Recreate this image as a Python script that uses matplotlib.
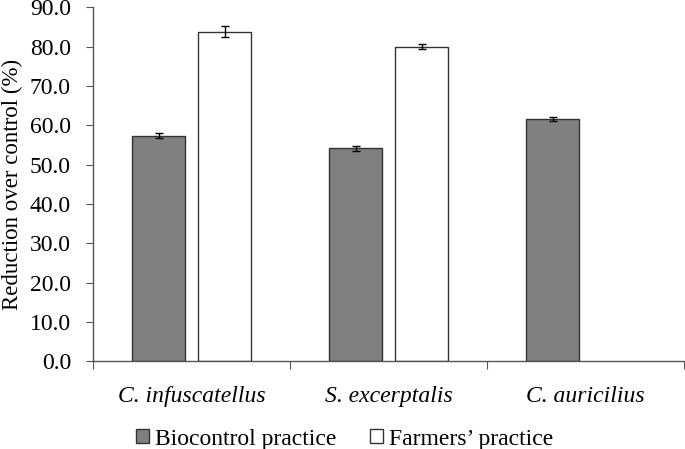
import matplotlib.pyplot as plt
import numpy as np
from matplotlib.patches import Patch

plt.rcParams['font.family'] = ['Liberation Serif', 'DejaVu Serif']

pests = ['C. infuscatellus', 'S. excerptalis', 'C. auricilius']
biocontrol = [57.4, 54.1, 61.6]
biocontrol_err = [0.7, 0.7, 0.5]
farmers = [83.8, 80.0, 0.0]
farmers_err = [1.3, 0.6, 0.0]
yticks = np.arange(0, 91, 10)

fig = plt.figure(figsize=(6.85, 4.49), dpi=100)
ax = fig.add_axes([0.136, 0.195, 0.863, 0.789])

x = np.arange(len(pests))
w = 0.27
off = 0.167

ax.bar(x - off, biocontrol, w, color='#808080', edgecolor='#333333', linewidth=1.0,
       yerr=biocontrol_err, capsize=3, error_kw=dict(elinewidth=1, capthick=1, ecolor='black'))
# only draw farmers' bars where there is a value
has_f = [i for i, v in enumerate(farmers) if v > 0]
ax.bar(x[has_f] + off, [farmers[i] for i in has_f], w, color='white', edgecolor='#333333',
       linewidth=1.0, yerr=[farmers_err[i] for i in has_f], capsize=3,
       error_kw=dict(elinewidth=1, capthick=1, ecolor='black'))

ax.set_xlim(-0.5, 2.5)
ax.set_ylim(0, 90)
ax.set_yticks(yticks)
ax.set_yticklabels([f"{v:.1f}" for v in yticks], fontsize=17)
ax.set_ylabel("Reduction over control (%)", fontsize=16.5, labelpad=5)

# category labels between boundary ticks
ax.set_xticks(np.arange(-0.5, 2.6, 1.0))
ax.set_xticklabels([])
ax.tick_params(axis='x', direction='out', length=6, color='#555555')
for i, name in enumerate(pests):
    ax.text(i, -0.1, name, transform=ax.get_xaxis_transform(), ha='center', va='center',
            fontsize=17, style='italic')
ax.tick_params(axis='y', direction='out', length=5, color='#555555', pad=11)

for s in ['top', 'right']:
    ax.spines[s].set_visible(False)
for s in ['left', 'bottom']:
    ax.spines[s].set_color('#555555')
    ax.spines[s].set_linewidth(1.0)

handles = [Patch(facecolor='#808080', edgecolor='#333333', label='Biocontrol practice'),
           Patch(facecolor='white', edgecolor='#333333', label='Farmers\u2019 practice')]
fig.legend(handles=handles, loc='center', bbox_to_anchor=(0.503, 0.022), ncol=2, frameon=False,
           fontsize=17, handlelength=0.55, handleheight=0.55, handletextpad=0.25, columnspacing=1.4,
           borderpad=0)

fig.savefig('out.png', dpi=100)
